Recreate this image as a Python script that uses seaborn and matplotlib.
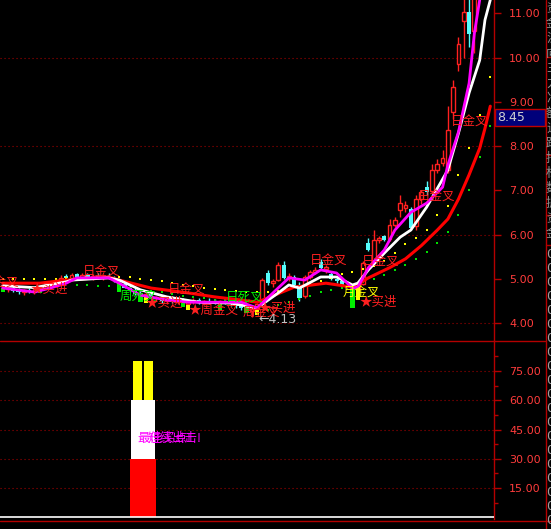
import numpy as np
import pandas as pd
import seaborn as sns
import matplotlib.pyplot as plt
from matplotlib.patches import Rectangle
from matplotlib.lines import Line2D

# >> K-line data (one entry per day) <<
opens = [4.80, 4.76, 4.78, 4.72, 4.70, 4.74, 4.70, 4.76, 4.80, 4.86,
         4.90, 4.96, 5.06, 5.02, 5.10, 5.04, 5.08, 5.02, 5.06, 5.04,
         5.06, 5.02, 4.94, 4.88, 4.80, 4.74, 4.66, 4.62, 4.66, 4.56,
         4.58, 4.50, 4.54, 4.48, 4.50, 4.44, 4.48, 4.52, 4.46, 4.50,
         4.48, 4.46, 4.50, 4.46, 4.42, 4.38, 4.34, 4.28, 4.32, 4.44,
         5.13, 4.90, 4.97, 5.31, 5.02, 5.04, 4.86, 4.60, 5.04, 5.16,
         5.38, 5.22, 5.10, 5.00, 4.94, 4.86, 4.82, 4.76, 4.88, 5.80,
         5.40, 5.88, 5.96, 5.90, 6.22, 6.55, 6.60, 6.58, 6.20, 6.80,
         7.07, 6.98, 7.45, 7.62, 7.46, 8.77, 9.85, 10.83, 11.03, 10.60,
         11.80, 12.40, 13.00]
highs = [4.86, 4.82, 4.84, 4.78, 4.76, 4.80, 4.78, 4.84, 4.90, 4.94,
         5.00, 5.08, 5.10, 5.12, 5.14, 5.12, 5.14, 5.10, 5.12, 5.10,
         5.12, 5.06, 4.98, 4.94, 4.86, 4.78, 4.72, 4.70, 4.70, 4.62,
         4.62, 4.58, 4.60, 4.54, 4.56, 4.52, 4.56, 4.56, 4.52, 4.56,
         4.54, 4.52, 4.56, 4.50, 4.48, 4.44, 4.40, 4.36, 4.46, 5.02,
         5.20, 5.00, 5.38, 5.40, 5.12, 5.08, 4.92, 5.08, 5.20, 5.26,
         5.44, 5.30, 5.16, 5.06, 5.00, 4.92, 4.86, 4.92, 5.40, 5.92,
         6.10, 5.96, 6.00, 6.34, 6.40, 6.90, 6.75, 6.62, 6.90, 7.00,
         7.20, 7.60, 7.70, 7.90, 8.90, 9.50, 10.46, 11.60, 11.50, 12.00,
         12.60, 13.20, 13.60]
lows = [4.74, 4.70, 4.70, 4.66, 4.64, 4.68, 4.66, 4.72, 4.76, 4.82,
        4.86, 4.92, 4.98, 4.98, 5.00, 5.00, 5.00, 4.98, 5.00, 4.98,
        5.00, 4.92, 4.84, 4.78, 4.70, 4.64, 4.58, 4.56, 4.54, 4.50,
        4.46, 4.44, 4.46, 4.42, 4.42, 4.40, 4.44, 4.44, 4.40, 4.44,
        4.42, 4.40, 4.44, 4.38, 4.34, 4.30, 4.24, 4.13, 4.28, 4.42,
        4.86, 4.82, 4.94, 5.00, 4.96, 4.84, 4.50, 4.56, 5.00, 5.10,
        5.20, 5.12, 4.98, 4.90, 4.84, 4.78, 4.70, 4.70, 4.86, 5.62,
        5.36, 5.80, 5.86, 5.86, 6.16, 6.40, 6.50, 6.10, 6.10, 6.70,
        6.90, 6.94, 7.40, 7.55, 7.40, 8.60, 9.69, 10.00, 10.24, 10.10,
        11.60, 12.20, 12.70]
closes = [4.76, 4.78, 4.72, 4.70, 4.74, 4.70, 4.76, 4.80, 4.86, 4.90,
          4.96, 5.02, 5.02, 5.08, 5.04, 5.08, 5.02, 5.06, 5.04, 5.06,
          5.02, 4.94, 4.88, 4.80, 4.74, 4.66, 4.62, 4.66, 4.56, 4.58,
          4.50, 4.54, 4.48, 4.50, 4.44, 4.48, 4.52, 4.46, 4.50, 4.48,
          4.46, 4.50, 4.46, 4.42, 4.38, 4.34, 4.28, 4.32, 4.44, 4.98,
          4.90, 4.96, 5.31, 5.02, 5.06, 4.86, 4.56, 5.04, 5.16, 5.20,
          5.24, 5.26, 5.00, 4.94, 4.86, 4.82, 4.76, 4.88, 5.36, 5.66,
          5.88, 5.92, 5.88, 6.22, 6.32, 6.71, 6.66, 6.15, 6.80, 6.96,
          6.96, 7.45, 7.60, 7.72, 8.36, 9.33, 10.30, 11.03, 10.53, 11.80,
          12.40, 13.00, 13.30]

# moving average lines (read at sparse days)
ma5_idx = [0, 6, 9, 12, 14, 20, 22, 26, 31, 35, 40, 45, 48, 51, 54, 57, 60,
           63, 66, 67, 69, 72, 74, 77, 80, 83, 84, 86, 88, 89, 90, 91, 92]
ma5_val = [4.79, 4.70, 4.79, 4.90, 5.02, 5.02, 4.90, 4.63, 4.52, 4.47, 4.47,
           4.47, 4.34, 4.68, 5.02, 4.97, 5.20, 5.13, 4.79, 4.81, 5.25, 5.65,
           6.10, 6.50, 6.71, 7.07, 7.57, 8.32, 9.42, 10.55, 11.30, 12.00, 12.70]
ma10_idx = [0, 6, 12, 13, 20, 22, 26, 31, 37, 43, 48, 52, 54, 56, 60, 63, 66,
            67, 69, 72, 75, 77, 80, 84, 86, 88, 90, 91, 92]
ma10_val = [4.84, 4.80, 4.93, 4.97, 5.02, 4.97, 4.75, 4.59, 4.47, 4.45, 4.34,
            4.68, 4.86, 4.79, 5.04, 5.04, 4.86, 4.90, 5.20, 5.58, 5.94, 6.10,
            6.62, 7.46, 8.29, 9.20, 9.94, 10.85, 11.30]
ma20_idx = [0, 7, 12, 20, 22, 28, 35, 40, 45, 48, 55, 61, 66, 69, 73, 76, 79,
            82, 84, 86, 88, 90, 91, 92]
ma20_val = [4.90, 4.90, 4.97, 5.04, 4.97, 4.79, 4.68, 4.59, 4.52, 4.47, 4.81,
            4.90, 4.81, 5.02, 5.25, 5.45, 5.75, 6.10, 6.35, 6.80, 7.35, 7.95,
            8.40, 8.90]

# dotted lines, every second day
yel_idx = list(range(0, 93, 2))
yel_val = [4.99, 4.99, 4.99, 4.99, 5.00, 5.00, 5.01, 5.02, 5.03, 5.04, 5.04,
           5.04, 5.03, 5.00, 4.97, 4.94, 4.90, 4.86, 4.83, 4.80, 4.77, 4.74,
           4.72, 4.70, 4.69, 4.70, 4.72, 4.76, 4.82, 4.88, 4.94, 5.02, 5.10,
           5.16, 5.22, 5.28, 5.40, 5.58, 5.78, 5.93, 6.10, 6.45, 6.65, 7.35,
           7.95, 8.70, 9.55]
grn_idx = list(range(14, 93, 2))
grn_val = [4.86, 4.85, 4.84, 4.83, 4.81, 4.78, 4.75, 4.72, 4.69, 4.65, 4.62,
           4.59, 4.56, 4.53, 4.51, 4.49, 4.47, 4.35, 4.30, 4.41, 4.47, 4.54,
           4.62, 4.69, 4.75, 4.80, 4.86, 4.92, 4.99, 5.08, 5.20, 5.32, 5.45,
           5.60, 5.80, 6.05, 6.45, 7.00, 7.75, 8.45]

# signal sticks
stick_idx = [0, 7, 22, 26, 27, 34, 35, 41, 46, 48, 66, 67]
stick_low = [4.70, 4.68, 4.70, 4.47, 4.45, 4.36, 4.29, 4.29, 4.22, 4.18, 4.34, 4.52]
stick_high = [4.79, 4.74, 4.93, 4.68, 4.61, 4.52, 4.40, 4.47, 4.38, 4.29, 4.81, 4.81]
stick_kind = ['g', 'g', 'g', 'g', 'y', 'g', 'y', 'g', 'g', 'y', 'g', 'y']

# signal texts
sig_text = ['日金叉', '★买进', '日金叉', '周死叉', '★买进', '日金叉', '日死叉',
            '★周金叉', '周金叉', '★买进', '日金叉', '日金叉', '月金叉', '★买进',
            '日金叉', '日金叉']
sig_x = [-3.9, 5.2, 15.2, 22.1, 26.9, 31.2, 42.1, 35.0, 45.3, 48.2, 58.0,
         67.8, 64.2, 67.4, 78.4, 84.6]
sig_y = [4.90, 4.75, 5.15, 4.61, 4.45, 4.75, 4.59, 4.27, 4.23, 4.32, 5.40,
         5.38, 4.68, 4.47, 6.85, 8.54]
sig_kind = ['r', 'r', 'r', 'g', 'r', 'r', 'g', 'r', 'r', 'r', 'r', 'r', 'y',
            'r', 'r', 'r']

low_price = 4.13
cur_price = 8.45
price_ticks = [4, 5, 6, 7, 8, 9, 10, 11]

# lower indicator
ind_pos = 26.5
ind_levels = [0, 30, 60, 80]
ind_ticks = [15, 30, 45, 60, 75]
ind_text = ['最佳买点!', '短线出击!']

RED = '#ff2020'
AXRED = '#b40000'
GRID = '#a00000'
CYAN = '#54fcfc'
pal = {'r': RED, 'g': '#00f000', 'y': '#ffff00'}

sns.set_style('dark', {'axes.facecolor': 'black', 'figure.facecolor': 'black'})
plt.rcParams['font.family'] = ['Noto Sans CJK SC', 'DejaVu Sans']

W, H = 551, 529
fig = plt.figure(figsize=(W / 100, H / 100), dpi=100, facecolor='black')


def fx(px):
    return px / W


def fy(py):
    return 1 - py / H


ax = fig.add_axes([0, fy(340), 494 / W, 340 / H])
ax2 = fig.add_axes([0, fy(519), 494 / W, (519 - 341) / H])

for a in (ax, ax2):
    a.set_facecolor('black')
    a.grid(False)
    a.set_xlim(-0.5, 92.7)
    for s in ['left', 'top', 'bottom']:
        a.spines[s].set_visible(False)
    a.spines['right'].set_color(AXRED)
    a.spines['right'].set_linewidth(1)
    a.yaxis.tick_right()
    a.set_xticks([])
    a.tick_params(axis='y', which='major', length=5, width=1, color=AXRED,
                  labelcolor='#ff3c3c', labelsize=8, pad=6)
    a.tick_params(axis='y', which='minor', length=3, width=1, color=AXRED)

ax.set_ylim(3.616, 11.30)
ax.set_yticks(price_ticks)
ax.set_yticklabels(['%.2f' % v for v in price_ticks], family='DejaVu Sans')
ax2.set_ylim(-0.9, 90.4)
ax2.set_yticks(ind_ticks)
ax2.set_yticks([7.5, 22.5, 37.5, 52.5, 67.5, 82.5], minor=True)
ax2.set_yticklabels(['%.2f' % v for v in ind_ticks], family='DejaVu Sans')

for v in [4, 6, 8, 10]:
    ax.axhline(v, color=GRID, lw=0.8, dashes=(1, 2.6), zorder=0)
for v in ind_ticks:
    ax2.axhline(v, color=GRID, lw=0.8, dashes=(1, 2.6), zorder=0)

# candles
for i in range(len(closes)):
    o, h, l, c = opens[i], highs[i], lows[i], closes[i]
    if c >= o:
        ax.vlines(i, l, o, color=RED, lw=1, zorder=2)
        ax.vlines(i, c, h, color=RED, lw=1, zorder=2)
        ax.bar(i, max(c - o, 0.01), bottom=o, width=0.72, facecolor='black',
               edgecolor=RED, linewidth=1, zorder=2)
    else:
        ax.vlines(i, l, h, color=CYAN, lw=1, zorder=2)
        ax.bar(i, o - c, bottom=c, width=0.78, color=CYAN, linewidth=0, zorder=2)

for i, lo, hi, k in zip(stick_idx, stick_low, stick_high, stick_kind):
    ax.bar(i, hi - lo, bottom=lo, width=0.8, color=pal[k], linewidth=0, zorder=2.5)

sns.scatterplot(x=yel_idx, y=yel_val, ax=ax, color='#ffff00', marker='s', s=3,
                linewidth=0, zorder=3)
sns.scatterplot(x=grn_idx, y=grn_val, ax=ax, color='#00e000', marker='s', s=3,
                linewidth=0, zorder=3)
sns.lineplot(x=ma20_idx, y=ma20_val, ax=ax, color='#ff0000', lw=2.2, zorder=4)
sns.lineplot(x=ma10_idx, y=ma10_val, ax=ax, color='#ffffff', lw=2.0, zorder=4)
sns.lineplot(x=ma5_idx, y=ma5_val, ax=ax, color='#ff00ff', lw=2.0, zorder=4)
ax.set_xlabel('')
ax.set_ylabel('')

for t, x, y, k in zip(sig_text, sig_x, sig_y, sig_kind):
    ax.text(x, y, t, color=pal[k], fontsize=9, ha='left', va='center', zorder=6)
ax.text(48.2, low_price - 0.06, '\u2190' + '%.2f' % low_price, color='#c0c0c0',
        fontsize=9, family='DejaVu Sans', ha='left', va='center', zorder=6)

# lower panel
ax2.bar(ind_pos, ind_levels[1] - ind_levels[0], bottom=ind_levels[0], width=4.9,
        color='#ff0000', linewidth=0, zorder=2)
ax2.bar(ind_pos, ind_levels[2] - ind_levels[1], bottom=ind_levels[1], width=4.5,
        color='#ffffff', linewidth=0, zorder=2)
ax2.bar([ind_pos - 1.05, ind_pos + 1.05], [ind_levels[3] - ind_levels[2]] * 2,
        bottom=ind_levels[2], width=1.7, color='#ffff00', linewidth=0, zorder=2)
ax2.axhline(0, color='white', lw=1.2, zorder=3)
ax2.text(25.35, 40.6, ind_text[0], color='#ff00ff', fontsize=9, va='center', zorder=5)
ax2.text(27.4, 40.6, ind_text[1], color='#ff00ff', fontsize=9, va='center', zorder=5)

# frame lines
fig.add_artist(Line2D([0, fx(545)], [fy(340.5)] * 2, color=AXRED, lw=1))
fig.add_artist(Line2D([0, 1], [fy(520.5)] * 2, color=AXRED, lw=1))
fig.add_artist(Line2D([fx(545.5)] * 2, [0, 1], color=AXRED, lw=1))
for py in [57, 155, 215, 245]:
    fig.add_artist(Line2D([fx(545.5), 1], [fy(py)] * 2, color=AXRED, lw=1))

# current price box
fig.add_artist(Rectangle((fx(495), fy(126)), 50 / W, 17 / H, facecolor='#00007a',
                         edgecolor='#c00000', lw=1, transform=fig.transFigure))
fig.text(fx(497), fy(117.5), '%.2f' % cur_price, color='#d0d0d0', fontsize=9,
         family='DejaVu Sans', va='center')

# cut-off side panel
for k, py in enumerate(range(8, 240, 15)):
    fig.text(fx(546), fy(py), '资金流向主力净额追踪指标数据'[k % 14], color='#909090',
             fontsize=9, va='center')
for py in range(255, 529, 14):
    fig.text(fx(546), fy(py), '0', color='#a0a0a0', fontsize=9,
             family='DejaVu Sans', va='center')

fig.savefig('out.png', dpi=100, facecolor='black')
